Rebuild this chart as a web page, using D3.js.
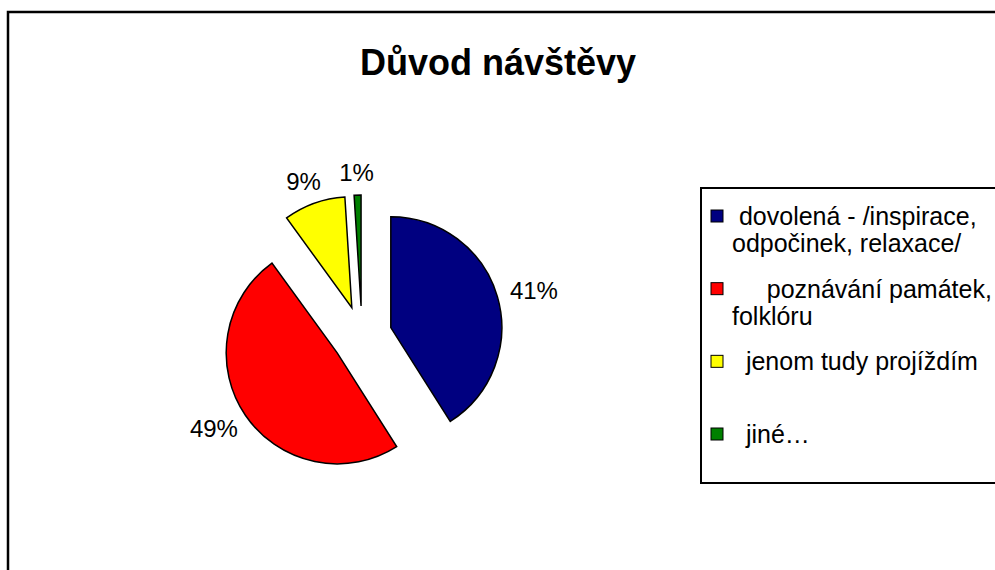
<!DOCTYPE html>
<html>
<head>
<meta charset="utf-8">
<script src="https://cdn.jsdelivr.net/npm/d3@7"></script>
<style>
  body { margin: 0; background: #fff; }
  text { font-family: "Liberation Sans", Arial, sans-serif; fill: #000; }
</style>
</head>
<body>
<div id="chart"></div>
<script>
// data
const categories = [
  "dovolená - /inspirace, odpočinek, relaxace/",
  "poznávání památek, folklóru",
  "jenom tudy projíždím",
  "jiné…"
];
const values = [41, 49, 9, 1];
const colors = ["#000080", "#ff0000", "#ffff00", "#008000"];
// how the legend wraps each entry (leading spaces as in the original)
const legendLines = [
  [" dovolená - /inspirace,", "odpočinek, relaxace/"],
  ["     poznávání památek,", "folklóru"],
  ["  jenom tudy projíždím"],
  ["  jiné…"]
];

const w = 995, h = 570;
const cx = 362, cy = 336, r = 111, explode = 30;
const labelGap = 14, labelSize = 24;

const svg = d3.select("#chart")
  .append("svg")
  .attr("width", w)
  .attr("height", h);

// outer frame (right and bottom are cut off)
svg.append("path")
  .attr("d", `M8,${h + 5} L8,12 L${w + 5},12`)
  .attr("fill", "none")
  .attr("stroke", "#000")
  .attr("stroke-width", 2.5);

svg.append("text")
  .attr("x", 498)
  .attr("y", 75)
  .attr("text-anchor", "middle")
  .style("font-size", "36px")
  .style("font-weight", "bold")
  .text("Důvod návštěvy");

const pie = d3.pie().sort(null).value(d => d);
const arcs = pie(values);
const arc = d3.arc().innerRadius(0).outerRadius(r);
const labelArc = d3.arc().innerRadius(r + labelGap).outerRadius(r + labelGap);

const mid = d => (d.startAngle + d.endAngle) / 2;

// offset of each exploded slice along its middle angle
function shift(d) {
  return [Math.sin(mid(d)) * explode, -Math.cos(mid(d)) * explode];
}

const slices = svg.append("g")
  .attr("transform", `translate(${cx},${cy})`)
  .selectAll("g")
  .data(arcs)
  .enter()
  .append("g")
  .attr("transform", d => "translate(" + shift(d) + ")");

slices.append("path")
  .attr("d", arc)
  .attr("fill", (d, i) => colors[i])
  .attr("stroke", "#000")
  .attr("stroke-width", 1.5)
  .attr("stroke-linejoin", "miter");

// label box sits just outside the rim, pushed out by its own half size
slices.append("text")
  .attr("text-anchor", "middle")
  .attr("dy", "0.35em")
  .style("font-size", labelSize + "px")
  .text(d => d.data + "%")
  .attr("transform", function(d) {
    const c = labelArc.centroid(d);
    const bw = this.getComputedTextLength() / 2;
    const bh = labelSize * 0.37;
    const x = c[0] + Math.sin(mid(d)) * bw;
    const y = c[1] - Math.cos(mid(d)) * bh;
    return `translate(${x},${y})`;
  });

// legend
const legend = svg.append("g");
legend.append("rect")
  .attr("x", 701)
  .attr("y", 188)
  .attr("width", 320)
  .attr("height", 295)
  .attr("fill", "#fff")
  .attr("stroke", "#000")
  .attr("stroke-width", 2);

const entryY = d3.scaleLinear().domain([0, 3]).range([225, 443]);

const entries = legend.selectAll("g.entry")
  .data(categories)
  .enter()
  .append("g")
  .attr("class", "entry")
  .attr("transform", (d, i) => `translate(0,${entryY(i)})`);

entries.append("rect")
  .attr("x", 711)
  .attr("y", -15)
  .attr("width", 12)
  .attr("height", 12)
  .attr("fill", (d, i) => colors[i])
  .attr("stroke", "#000")
  .attr("stroke-width", 1);

entries.append("text")
  .style("font-size", "25px")
  .style("white-space", "pre")
  .attr("xml:space", "preserve")
  .selectAll("tspan")
  .data((d, i) => legendLines[i])
  .enter()
  .append("tspan")
  .attr("x", 732)
  .attr("y", (d, j) => j * 27)
  .text(d => d);
</script>
</body>
</html>
